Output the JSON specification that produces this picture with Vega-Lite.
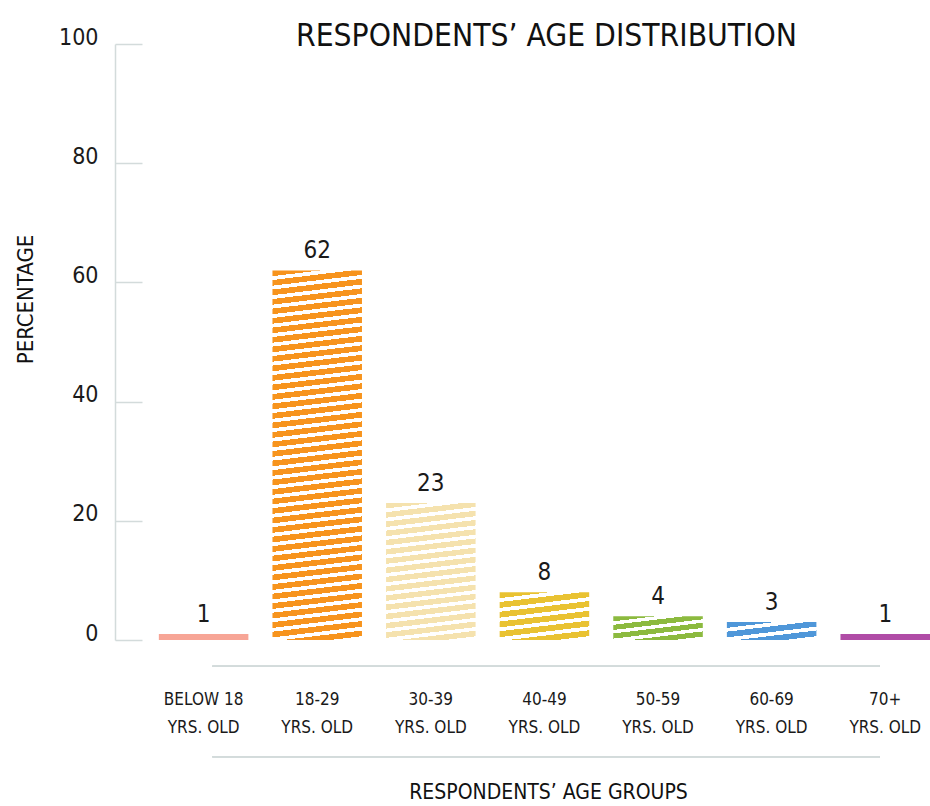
{
  "$schema": "https://vega.github.io/schema/vega-lite/v6.json",
  "width": 815,
  "height": 596,
  "autosize": {"type": "none"},
  "padding": {"left": 115, "top": 44, "right": 0, "bottom": 166},
  "background": "#ffffff",
  "config": {
    "view": {"stroke": null},
    "font": "DejaVu Sans Condensed, Liberation Sans Narrow, Roboto, sans-serif"
  },
  "title": {
    "text": "RESPONDENTS’ AGE DISTRIBUTION",
    "frame": "group",
    "anchor": "middle",
    "dx": 24,
    "offset": -51,
    "baseline": "alphabetic",
    "fontSize": 31.5,
    "fontWeight": "normal",
    "color": "#111111"
  },
  "data": {
    "values": [
      {"group": "BELOW 18", "pct": 1},
      {"group": "18-29", "pct": 62},
      {"group": "30-39", "pct": 23},
      {"group": "40-49", "pct": 8},
      {"group": "50-59", "pct": 4},
      {"group": "60-69", "pct": 3},
      {"group": "70+", "pct": 1}
    ]
  },
  "encoding": {
    "x": {
      "field": "group",
      "type": "nominal",
      "sort": null,
      "scale": {
        "domain": ["BELOW 18", "18-29", "30-39", "40-49", "50-59", "60-69", "70+"],
        "paddingInner": 0.212,
        "paddingOuter": 0.193,
        "align": 1
      },
      "axis": {
        "orient": "bottom",
        "domain": false,
        "ticks": false,
        "tickSize": 0,
        "labelPadding": 51,
        "labelAngle": 0,
        "labelBaseline": "top",
        "labelExpr": "[datum.label, 'YRS. OLD']",
        "labelLineHeight": 28,
        "labelFontSize": 17,
        "labelColor": "#1a1a1a",
        "labelOverlap": false,
        "title": "RESPONDENTS’ AGE GROUPS",
        "titleFontSize": 21,
        "titleFontWeight": "normal",
        "titleColor": "#111111",
        "titleX": 433,
        "titleY": 158,
        "titleAlign": "center",
        "titleBaseline": "alphabetic"
      }
    },
    "y": {
      "field": "pct",
      "type": "quantitative",
      "scale": {"domain": [0, 100], "nice": false},
      "axis": {
        "values": [0, 20, 40, 60, 80, 100],
        "grid": false,
        "domainColor": "#d3dbdb",
        "domainWidth": 1.5,
        "tickColor": "#d3dbdb",
        "tickWidth": 1.5,
        "tickSize": -27,
        "labelPadding": 44,
        "labelBaseline": "alphabetic",
        "labelFontSize": 23,
        "labelColor": "#1a1a1a",
        "labelOverlap": false,
        "labelFlush": false,
        "title": "PERCENTAGE",
        "titleFontSize": 22,
        "titleFontWeight": "normal",
        "titleColor": "#111111",
        "titleX": -83,
        "titleY": 255,
        "titleAlign": "center",
        "titleBaseline": "alphabetic"
      }
    }
  },
  "layer": [
    {
      "mark": {"type": "bar"},
      "encoding": {
        "color": {
          "condition": [
            {"test": "datum.group === 'BELOW 18'", "value": "#f7a596"},
            {"test": "datum.group === '70+'", "value": "#b04ca6"},
            {"test": "datum.group === '18-29'", "value": {"gradient": "linear", "x1": 0, "y1": 0, "x2": 0.0299, "y2": 1.0282, "stops": [
              {"offset": 0, "color": "#f7941d"}, {"offset": 0.015, "color": "#f7941d"}, {"offset": 0.015, "color": "#ffffff"}, {"offset": 0.025, "color": "#ffffff"},
              {"offset": 0.025, "color": "#f7941d"}, {"offset": 0.04, "color": "#f7941d"}, {"offset": 0.04, "color": "#ffffff"}, {"offset": 0.05, "color": "#ffffff"},
              {"offset": 0.05, "color": "#f7941d"}, {"offset": 0.065, "color": "#f7941d"}, {"offset": 0.065, "color": "#ffffff"}, {"offset": 0.075, "color": "#ffffff"},
              {"offset": 0.075, "color": "#f7941d"}, {"offset": 0.09, "color": "#f7941d"}, {"offset": 0.09, "color": "#ffffff"}, {"offset": 0.1, "color": "#ffffff"},
              {"offset": 0.1, "color": "#f7941d"}, {"offset": 0.115, "color": "#f7941d"}, {"offset": 0.115, "color": "#ffffff"}, {"offset": 0.125, "color": "#ffffff"},
              {"offset": 0.125, "color": "#f7941d"}, {"offset": 0.14, "color": "#f7941d"}, {"offset": 0.14, "color": "#ffffff"}, {"offset": 0.15, "color": "#ffffff"},
              {"offset": 0.15, "color": "#f7941d"}, {"offset": 0.165, "color": "#f7941d"}, {"offset": 0.165, "color": "#ffffff"}, {"offset": 0.175, "color": "#ffffff"},
              {"offset": 0.175, "color": "#f7941d"}, {"offset": 0.19, "color": "#f7941d"}, {"offset": 0.19, "color": "#ffffff"}, {"offset": 0.2, "color": "#ffffff"},
              {"offset": 0.2, "color": "#f7941d"}, {"offset": 0.215, "color": "#f7941d"}, {"offset": 0.215, "color": "#ffffff"}, {"offset": 0.225, "color": "#ffffff"},
              {"offset": 0.225, "color": "#f7941d"}, {"offset": 0.24, "color": "#f7941d"}, {"offset": 0.24, "color": "#ffffff"}, {"offset": 0.25, "color": "#ffffff"},
              {"offset": 0.25, "color": "#f7941d"}, {"offset": 0.265, "color": "#f7941d"}, {"offset": 0.265, "color": "#ffffff"}, {"offset": 0.275, "color": "#ffffff"},
              {"offset": 0.275, "color": "#f7941d"}, {"offset": 0.29, "color": "#f7941d"}, {"offset": 0.29, "color": "#ffffff"}, {"offset": 0.3, "color": "#ffffff"},
              {"offset": 0.3, "color": "#f7941d"}, {"offset": 0.315, "color": "#f7941d"}, {"offset": 0.315, "color": "#ffffff"}, {"offset": 0.325, "color": "#ffffff"},
              {"offset": 0.325, "color": "#f7941d"}, {"offset": 0.34, "color": "#f7941d"}, {"offset": 0.34, "color": "#ffffff"}, {"offset": 0.35, "color": "#ffffff"},
              {"offset": 0.35, "color": "#f7941d"}, {"offset": 0.365, "color": "#f7941d"}, {"offset": 0.365, "color": "#ffffff"}, {"offset": 0.375, "color": "#ffffff"},
              {"offset": 0.375, "color": "#f7941d"}, {"offset": 0.39, "color": "#f7941d"}, {"offset": 0.39, "color": "#ffffff"}, {"offset": 0.4, "color": "#ffffff"},
              {"offset": 0.4, "color": "#f7941d"}, {"offset": 0.415, "color": "#f7941d"}, {"offset": 0.415, "color": "#ffffff"}, {"offset": 0.425, "color": "#ffffff"},
              {"offset": 0.425, "color": "#f7941d"}, {"offset": 0.44, "color": "#f7941d"}, {"offset": 0.44, "color": "#ffffff"}, {"offset": 0.45, "color": "#ffffff"},
              {"offset": 0.45, "color": "#f7941d"}, {"offset": 0.465, "color": "#f7941d"}, {"offset": 0.465, "color": "#ffffff"}, {"offset": 0.475, "color": "#ffffff"},
              {"offset": 0.475, "color": "#f7941d"}, {"offset": 0.49, "color": "#f7941d"}, {"offset": 0.49, "color": "#ffffff"}, {"offset": 0.5, "color": "#ffffff"},
              {"offset": 0.5, "color": "#f7941d"}, {"offset": 0.515, "color": "#f7941d"}, {"offset": 0.515, "color": "#ffffff"}, {"offset": 0.525, "color": "#ffffff"},
              {"offset": 0.525, "color": "#f7941d"}, {"offset": 0.54, "color": "#f7941d"}, {"offset": 0.54, "color": "#ffffff"}, {"offset": 0.55, "color": "#ffffff"},
              {"offset": 0.55, "color": "#f7941d"}, {"offset": 0.565, "color": "#f7941d"}, {"offset": 0.565, "color": "#ffffff"}, {"offset": 0.575, "color": "#ffffff"},
              {"offset": 0.575, "color": "#f7941d"}, {"offset": 0.59, "color": "#f7941d"}, {"offset": 0.59, "color": "#ffffff"}, {"offset": 0.6, "color": "#ffffff"},
              {"offset": 0.6, "color": "#f7941d"}, {"offset": 0.615, "color": "#f7941d"}, {"offset": 0.615, "color": "#ffffff"}, {"offset": 0.625, "color": "#ffffff"},
              {"offset": 0.625, "color": "#f7941d"}, {"offset": 0.64, "color": "#f7941d"}, {"offset": 0.64, "color": "#ffffff"}, {"offset": 0.65, "color": "#ffffff"},
              {"offset": 0.65, "color": "#f7941d"}, {"offset": 0.665, "color": "#f7941d"}, {"offset": 0.665, "color": "#ffffff"}, {"offset": 0.675, "color": "#ffffff"},
              {"offset": 0.675, "color": "#f7941d"}, {"offset": 0.69, "color": "#f7941d"}, {"offset": 0.69, "color": "#ffffff"}, {"offset": 0.7, "color": "#ffffff"},
              {"offset": 0.7, "color": "#f7941d"}, {"offset": 0.715, "color": "#f7941d"}, {"offset": 0.715, "color": "#ffffff"}, {"offset": 0.725, "color": "#ffffff"},
              {"offset": 0.725, "color": "#f7941d"}, {"offset": 0.74, "color": "#f7941d"}, {"offset": 0.74, "color": "#ffffff"}, {"offset": 0.75, "color": "#ffffff"},
              {"offset": 0.75, "color": "#f7941d"}, {"offset": 0.765, "color": "#f7941d"}, {"offset": 0.765, "color": "#ffffff"}, {"offset": 0.775, "color": "#ffffff"},
              {"offset": 0.775, "color": "#f7941d"}, {"offset": 0.79, "color": "#f7941d"}, {"offset": 0.79, "color": "#ffffff"}, {"offset": 0.8, "color": "#ffffff"},
              {"offset": 0.8, "color": "#f7941d"}, {"offset": 0.815, "color": "#f7941d"}, {"offset": 0.815, "color": "#ffffff"}, {"offset": 0.825, "color": "#ffffff"},
              {"offset": 0.825, "color": "#f7941d"}, {"offset": 0.84, "color": "#f7941d"}, {"offset": 0.84, "color": "#ffffff"}, {"offset": 0.85, "color": "#ffffff"},
              {"offset": 0.85, "color": "#f7941d"}, {"offset": 0.865, "color": "#f7941d"}, {"offset": 0.865, "color": "#ffffff"}, {"offset": 0.875, "color": "#ffffff"},
              {"offset": 0.875, "color": "#f7941d"}, {"offset": 0.89, "color": "#f7941d"}, {"offset": 0.89, "color": "#ffffff"}, {"offset": 0.9, "color": "#ffffff"},
              {"offset": 0.9, "color": "#f7941d"}, {"offset": 0.915, "color": "#f7941d"}, {"offset": 0.915, "color": "#ffffff"}, {"offset": 0.925, "color": "#ffffff"},
              {"offset": 0.925, "color": "#f7941d"}, {"offset": 0.94, "color": "#f7941d"}, {"offset": 0.94, "color": "#ffffff"}, {"offset": 0.95, "color": "#ffffff"},
              {"offset": 0.95, "color": "#f7941d"}, {"offset": 0.965, "color": "#f7941d"}, {"offset": 0.965, "color": "#ffffff"}, {"offset": 0.975, "color": "#ffffff"},
              {"offset": 0.975, "color": "#f7941d"}, {"offset": 0.99, "color": "#f7941d"}, {"offset": 0.99, "color": "#ffffff"}, {"offset": 1, "color": "#ffffff"}
            ]}},
            {"test": "datum.group === '30-39'", "value": {"gradient": "linear", "x1": 0, "y1": 0, "x2": 0.084, "y2": 1.0718, "stops": [
              {"offset": 0, "color": "#f5e2ae"}, {"offset": 0.0375, "color": "#f5e2ae"}, {"offset": 0.0375, "color": "#ffffff"}, {"offset": 0.0625, "color": "#ffffff"},
              {"offset": 0.0625, "color": "#f5e2ae"}, {"offset": 0.1, "color": "#f5e2ae"}, {"offset": 0.1, "color": "#ffffff"}, {"offset": 0.125, "color": "#ffffff"},
              {"offset": 0.125, "color": "#f5e2ae"}, {"offset": 0.1625, "color": "#f5e2ae"}, {"offset": 0.1625, "color": "#ffffff"}, {"offset": 0.1875, "color": "#ffffff"},
              {"offset": 0.1875, "color": "#f5e2ae"}, {"offset": 0.225, "color": "#f5e2ae"}, {"offset": 0.225, "color": "#ffffff"}, {"offset": 0.25, "color": "#ffffff"},
              {"offset": 0.25, "color": "#f5e2ae"}, {"offset": 0.2875, "color": "#f5e2ae"}, {"offset": 0.2875, "color": "#ffffff"}, {"offset": 0.3125, "color": "#ffffff"},
              {"offset": 0.3125, "color": "#f5e2ae"}, {"offset": 0.35, "color": "#f5e2ae"}, {"offset": 0.35, "color": "#ffffff"}, {"offset": 0.375, "color": "#ffffff"},
              {"offset": 0.375, "color": "#f5e2ae"}, {"offset": 0.4125, "color": "#f5e2ae"}, {"offset": 0.4125, "color": "#ffffff"}, {"offset": 0.4375, "color": "#ffffff"},
              {"offset": 0.4375, "color": "#f5e2ae"}, {"offset": 0.475, "color": "#f5e2ae"}, {"offset": 0.475, "color": "#ffffff"}, {"offset": 0.5, "color": "#ffffff"},
              {"offset": 0.5, "color": "#f5e2ae"}, {"offset": 0.5375, "color": "#f5e2ae"}, {"offset": 0.5375, "color": "#ffffff"}, {"offset": 0.5625, "color": "#ffffff"},
              {"offset": 0.5625, "color": "#f5e2ae"}, {"offset": 0.6, "color": "#f5e2ae"}, {"offset": 0.6, "color": "#ffffff"}, {"offset": 0.625, "color": "#ffffff"},
              {"offset": 0.625, "color": "#f5e2ae"}, {"offset": 0.6625, "color": "#f5e2ae"}, {"offset": 0.6625, "color": "#ffffff"}, {"offset": 0.6875, "color": "#ffffff"},
              {"offset": 0.6875, "color": "#f5e2ae"}, {"offset": 0.725, "color": "#f5e2ae"}, {"offset": 0.725, "color": "#ffffff"}, {"offset": 0.75, "color": "#ffffff"},
              {"offset": 0.75, "color": "#f5e2ae"}, {"offset": 0.7875, "color": "#f5e2ae"}, {"offset": 0.7875, "color": "#ffffff"}, {"offset": 0.8125, "color": "#ffffff"},
              {"offset": 0.8125, "color": "#f5e2ae"}, {"offset": 0.85, "color": "#f5e2ae"}, {"offset": 0.85, "color": "#ffffff"}, {"offset": 0.875, "color": "#ffffff"},
              {"offset": 0.875, "color": "#f5e2ae"}, {"offset": 0.9125, "color": "#f5e2ae"}, {"offset": 0.9125, "color": "#ffffff"}, {"offset": 0.9375, "color": "#ffffff"},
              {"offset": 0.9375, "color": "#f5e2ae"}, {"offset": 0.975, "color": "#f5e2ae"}, {"offset": 0.975, "color": "#ffffff"}, {"offset": 1, "color": "#ffffff"}
            ]}},
            {"test": "datum.group === '40-49'", "value": {"gradient": "linear", "x1": 0, "y1": 0, "x2": 0.2627, "y2": 1.1661, "stops": [
              {"offset": 0, "color": "#e9c232"}, {"offset": 0.1, "color": "#e9c232"}, {"offset": 0.1, "color": "#ffffff"}, {"offset": 0.1667, "color": "#ffffff"},
              {"offset": 0.1667, "color": "#e9c232"}, {"offset": 0.2667, "color": "#e9c232"}, {"offset": 0.2667, "color": "#ffffff"}, {"offset": 0.3333, "color": "#ffffff"},
              {"offset": 0.3333, "color": "#e9c232"}, {"offset": 0.4333, "color": "#e9c232"}, {"offset": 0.4333, "color": "#ffffff"}, {"offset": 0.5, "color": "#ffffff"},
              {"offset": 0.5, "color": "#e9c232"}, {"offset": 0.6, "color": "#e9c232"}, {"offset": 0.6, "color": "#ffffff"}, {"offset": 0.6667, "color": "#ffffff"},
              {"offset": 0.6667, "color": "#e9c232"}, {"offset": 0.7667, "color": "#e9c232"}, {"offset": 0.7667, "color": "#ffffff"}, {"offset": 0.8333, "color": "#ffffff"},
              {"offset": 0.8333, "color": "#e9c232"}, {"offset": 0.9333, "color": "#e9c232"}, {"offset": 0.9333, "color": "#ffffff"}, {"offset": 1, "color": "#ffffff"}
            ]}},
            {"test": "datum.group === '50-59'", "value": {"gradient": "linear", "x1": 0, "y1": 0, "x2": 0.5432, "y2": 1.2058, "stops": [
              {"offset": 0, "color": "#8cba3f"}, {"offset": 0.15, "color": "#8cba3f"}, {"offset": 0.15, "color": "#ffffff"}, {"offset": 0.25, "color": "#ffffff"},
              {"offset": 0.25, "color": "#8cba3f"}, {"offset": 0.4, "color": "#8cba3f"}, {"offset": 0.4, "color": "#ffffff"}, {"offset": 0.5, "color": "#ffffff"},
              {"offset": 0.5, "color": "#8cba3f"}, {"offset": 0.65, "color": "#8cba3f"}, {"offset": 0.65, "color": "#ffffff"}, {"offset": 0.75, "color": "#ffffff"},
              {"offset": 0.75, "color": "#8cba3f"}, {"offset": 0.9, "color": "#8cba3f"}, {"offset": 0.9, "color": "#ffffff"}, {"offset": 1, "color": "#ffffff"}
            ]}},
            {"test": "datum.group === '60-69'", "value": {"gradient": "linear", "x1": 0, "y1": 0, "x2": 0.7066, "y2": 1.1763, "stops": [
              {"offset": 0, "color": "#4f97d9"}, {"offset": 0.2, "color": "#4f97d9"}, {"offset": 0.2, "color": "#ffffff"}, {"offset": 0.3333, "color": "#ffffff"},
              {"offset": 0.3333, "color": "#4f97d9"}, {"offset": 0.5333, "color": "#4f97d9"}, {"offset": 0.5333, "color": "#ffffff"}, {"offset": 0.6667, "color": "#ffffff"},
              {"offset": 0.6667, "color": "#4f97d9"}, {"offset": 0.8667, "color": "#4f97d9"}, {"offset": 0.8667, "color": "#ffffff"}, {"offset": 1, "color": "#ffffff"}
            ]}}
          ],
          "value": "#999999"
        }
      }
    },
    {
      "mark": {
        "type": "text",
        "baseline": "alphabetic",
        "dy": -12,
        "fontSize": 24,
        "color": "#1a1a1a"
      },
      "encoding": {
        "text": {"field": "pct", "type": "quantitative"}
      }
    },
    {
      "mark": {"type": "rule", "color": "#d3dbdb", "strokeWidth": 1.5},
      "encoding": {
        "x": {"datum": "BELOW 18", "bandPosition": 0.6},
        "x2": {"datum": "70+", "bandPosition": 0.44},
        "y": {"datum": -4.4}
      }
    },
    {
      "mark": {"type": "rule", "color": "#d3dbdb", "strokeWidth": 1.5},
      "encoding": {
        "x": {"datum": "BELOW 18", "bandPosition": 0.6},
        "x2": {"datum": "70+", "bandPosition": 0.44},
        "y": {"datum": -19.6}
      }
    }
  ]
}
